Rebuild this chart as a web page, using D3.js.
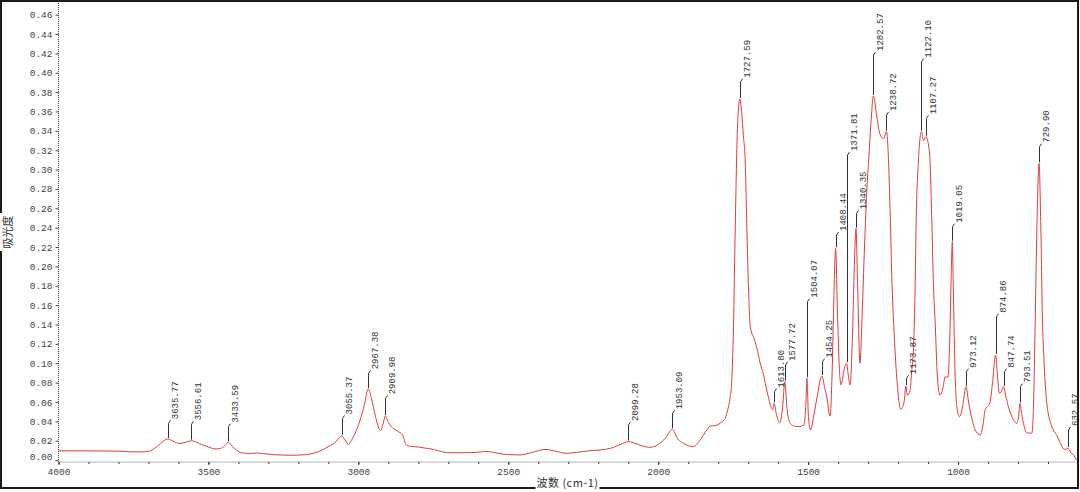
<!DOCTYPE html>
<html>
<head>
<meta charset="utf-8">
<script src="https://cdn.jsdelivr.net/npm/d3@7"></script>
<style>
  body { margin: 0; background: #fff; }
</style>
</head>
<body>
<div id="chart"></div>
<script>
// 1. DATA
const wavenumbers = [
  4000, 3900, 3800, 3760, 3720, 3700, 3680, 3660, 3635.77, 3615,
  3598, 3575, 3556.61, 3530, 3500, 3478, 3460, 3445, 3433.59, 3420,
  3405, 3391, 3360, 3340, 3320, 3280, 3220, 3180, 3150, 3120,
  3100, 3085, 3075, 3065, 3055.37, 3045, 3034, 3020, 3005, 2994,
  2980, 2967.38, 2955, 2945, 2933, 2926, 2918, 2909.98, 2900, 2890,
  2870, 2853, 2840, 2818, 2800, 2780, 2750, 2720, 2702, 2650,
  2600, 2576, 2550, 2527, 2490, 2461, 2420, 2377, 2340, 2305,
  2270, 2227, 2190, 2150, 2120, 2099.28, 2070, 2045, 2027, 2000,
  1975, 1953.09, 1935, 1916, 1883, 1860, 1840, 1827, 1805, 1790,
  1777, 1768, 1760, 1755, 1749, 1743, 1737, 1732, 1727.59, 1722,
  1716, 1710, 1704, 1698, 1693, 1680, 1672, 1660, 1650, 1640,
  1633, 1625, 1618, 1613.80, 1605, 1595, 1585, 1577.72, 1570, 1560,
  1545, 1530, 1515, 1508, 1504.07, 1499, 1492, 1480, 1470, 1454.25,
  1445, 1438, 1427, 1420, 1414, 1408.44, 1402, 1395, 1390, 1381,
  1371.81, 1365, 1360, 1352, 1345, 1340.35, 1335, 1327, 1320, 1312,
  1304, 1298, 1290, 1282.57, 1271, 1260, 1249, 1238.72, 1232, 1226,
  1220, 1213, 1203, 1191, 1180, 1173.87, 1169, 1160, 1155, 1149,
  1143, 1140, 1132, 1122.10, 1115, 1107.27, 1095, 1087, 1082, 1076,
  1069, 1060, 1050, 1043, 1034, 1028, 1023, 1019.05, 1016, 1010,
  1004, 995, 985, 973.12, 965, 960, 950, 943, 926, 915,
  910, 900, 894, 885, 874.86, 868, 862, 855, 847.74, 840,
  832, 815, 804, 798, 793.51, 788, 782, 770, 754, 748,
  743, 737, 729.90, 724, 718, 715, 704, 687, 670, 659,
  648, 640, 632.57, 625, 614, 605
];
const absorbance = [
  0.0095, 0.0095, 0.0092, 0.0085, 0.0085, 0.009, 0.012, 0.017, 0.0218, 0.019,
  0.0172, 0.0185, 0.020, 0.017, 0.0135, 0.0115, 0.012, 0.015, 0.0183, 0.014,
  0.010, 0.0076, 0.0068, 0.0072, 0.0068, 0.0055, 0.005, 0.0055, 0.007, 0.0105,
  0.014, 0.0165, 0.019, 0.0225, 0.025, 0.021, 0.0163, 0.022, 0.032, 0.0414,
  0.057, 0.0734, 0.062, 0.048, 0.034, 0.0305, 0.037, 0.0455, 0.039, 0.0345,
  0.030, 0.026, 0.0156, 0.0138, 0.0135, 0.0125, 0.011, 0.0085, 0.0076, 0.0076,
  0.008, 0.009, 0.008, 0.0065, 0.0055, 0.0053, 0.008, 0.011, 0.009, 0.007,
  0.008, 0.0097, 0.0105, 0.013, 0.017, 0.019, 0.0165, 0.0138, 0.0132, 0.016,
  0.023, 0.0318, 0.022, 0.0173, 0.0138, 0.0207, 0.030, 0.035, 0.036, 0.039,
  0.043, 0.052, 0.065, 0.08, 0.138, 0.241, 0.33, 0.365, 0.373, 0.36,
  0.335, 0.31, 0.235, 0.17, 0.138, 0.125, 0.117, 0.10, 0.0896, 0.075,
  0.0655, 0.056, 0.052, 0.0586, 0.046, 0.0386, 0.055, 0.081, 0.052, 0.038,
  0.035, 0.0345, 0.036, 0.055, 0.0845, 0.045, 0.031, 0.048, 0.0655, 0.0868,
  0.075, 0.0655, 0.0455, 0.09, 0.17, 0.2187, 0.15, 0.09, 0.0775, 0.092,
  0.10, 0.085, 0.0775, 0.13, 0.21, 0.239, 0.18, 0.10, 0.15, 0.22,
  0.28, 0.31, 0.35, 0.376, 0.355, 0.336, 0.332, 0.339, 0.31, 0.25,
  0.18, 0.13, 0.079, 0.0524, 0.06, 0.0765, 0.067, 0.072, 0.09, 0.1137,
  0.18, 0.241, 0.31, 0.339, 0.33, 0.334, 0.3168, 0.241, 0.18, 0.14,
  0.086, 0.067, 0.075, 0.086, 0.0855, 0.12, 0.19, 0.2255, 0.18, 0.09,
  0.055, 0.0448, 0.055, 0.0758, 0.06, 0.0517, 0.038, 0.031, 0.026, 0.04,
  0.0517, 0.056, 0.0586, 0.08, 0.1085, 0.085, 0.069, 0.071, 0.0758, 0.065,
  0.055, 0.0414, 0.038, 0.045, 0.0586, 0.048, 0.038, 0.028, 0.0277, 0.06,
  0.138, 0.241, 0.3065, 0.241, 0.138, 0.1137, 0.0586, 0.0345, 0.025, 0.018,
  0.0115, 0.011, 0.0125, 0.008, 0.005, 0.0
];

// peak picks: label text + absorbance where the leader line ends
const peakLabels = [
  "3635.77", "3556.61", "3433.59", "3055.37", "2967.38", "2909.98", "2099.28",
  "1953.09", "1727.59", "1613.80", "1577.72", "1504.07", "1454.25", "1408.44",
  "1371.81", "1340.35", "1282.57", "1238.72", "1173.87", "1122.10", "1107.27",
  "1019.05", "973.12", "874.86", "847.74", "793.51", "729.90", "632.57"
];
const peakTops = [
  0.038, 0.037, 0.0345, 0.043, 0.0896, 0.0638, 0.0362,
  0.0483, 0.3907, 0.0706, 0.0982, 0.1636, 0.1016, 0.2324,
  0.315, 0.2548, 0.4183, 0.3563, 0.0845, 0.4114, 0.3529,
  0.241, 0.0913, 0.148, 0.0913, 0.0758, 0.3236, 0.0311
];

const yTicks = [0.00, 0.02, 0.04, 0.06, 0.08, 0.10, 0.12, 0.14, 0.16, 0.18, 0.20, 0.22,
  0.24, 0.26, 0.28, 0.30, 0.32, 0.34, 0.36, 0.38, 0.40, 0.42, 0.44, 0.46];
const xTicks = [4000, 3500, 3000, 2500, 2000, 1500, 1000];
const xMinor = d3.range(700, 4001, 100);

const xTitle = "波数 (cm-1)";
const yTitle = "吸光度";

// 2. SETUP
const width = 1080;
const height = 492;
const plot = { left: 58.5, right: 1076.5, top: 3, bottom: 462 };
const monoFont = "'Liberation Mono', 'DejaVu Sans Mono', monospace";
const cjkFont = "'Noto Sans CJK SC', sans-serif";

const svg = d3.select("#chart")
  .append("svg")
  .attr("width", width)
  .attr("height", height)
  .attr("viewBox", [0, 0, width, height]);

svg.append("rect")
  .attr("width", width).attr("height", height)
  .attr("fill", "#fff");

// --- SCALES ---
const x = d3.scaleLinear()
  .domain([4000, 605])
  .range([plot.left, plot.right]);

const y = d3.scaleLinear()
  .domain([-0.002, 0.472])
  .range([plot.bottom, plot.top]);

// outer frame
svg.append("rect")
  .attr("x", 1).attr("y", 1)
  .attr("width", 1077).attr("height", 487)
  .attr("fill", "none")
  .attr("stroke", "#1a1a1a")
  .attr("stroke-width", 2);

// --- Y AXIS ---
svg.append("line")
  .attr("x1", plot.left).attr("x2", plot.left)
  .attr("y1", plot.top).attr("y2", plot.bottom)
  .attr("stroke", "#444")
  .attr("stroke-dasharray", "1,1");

const yAxis = svg.append("g")
  .attr("transform", `translate(${plot.left},0)`)
  .call(d3.axisLeft(y).tickValues(yTicks).tickSize(3).tickPadding(3).tickFormat(d3.format(".2f")))
  .call(g => g.select(".domain").remove());
yAxis.selectAll("line").attr("stroke", "#444");
yAxis.selectAll("text")
  .attr("font-family", monoFont)
  .attr("font-size", "9.5px")
  .attr("fill", "#444")
  .attr("dy", d => d === 0 ? "-0.1em" : "0.32em");  // 0.00 sits a bit above the x axis

// --- X AXIS ---
svg.append("line")
  .attr("x1", plot.left).attr("x2", plot.right)
  .attr("y1", plot.bottom).attr("y2", plot.bottom)
  .attr("stroke", "#b4b4b4");

svg.append("g")
  .attr("transform", `translate(0,${plot.bottom})`)
  .call(d3.axisBottom(x).tickValues(xMinor).tickSize(2).tickFormat(""))
  .call(g => g.select(".domain").remove())
  .selectAll("line").attr("stroke", "#333");

const xAxis = svg.append("g")
  .attr("transform", `translate(0,${plot.bottom})`)
  .call(d3.axisBottom(x).tickValues(xTicks).tickSize(3).tickPadding(3).tickFormat(d3.format("d")))
  .call(g => g.select(".domain").remove());
xAxis.selectAll("line").attr("stroke", "#333");
xAxis.selectAll("text")
  .attr("font-family", monoFont)
  .attr("font-size", "9.5px")
  .attr("fill", "#444");

// axis titles (they break the frame line)
const xt = svg.append("g").attr("transform", `translate(${(plot.left + plot.right) / 2},487)`);
xt.append("rect").attr("x", -32).attr("y", -10).attr("width", 64).attr("height", 5 + 10).attr("fill", "#fff");
xt.append("text")
  .attr("text-anchor", "middle")
  .attr("font-family", cjkFont)
  .attr("font-size", "11px")
  .attr("letter-spacing", "0.5px")
  .attr("fill", "#333")
  .text(xTitle);

const yt = svg.append("g").attr("transform", `translate(12,232) rotate(-90)`);
yt.append("rect").attr("x", -19).attr("y", -12).attr("width", 38).attr("height", 15).attr("fill", "#fff");
yt.append("text")
  .attr("text-anchor", "middle")
  .attr("font-family", cjkFont)
  .attr("font-size", "11px")
  .attr("fill", "#333")
  .text(yTitle);

// --- SPECTRUM ---
const spectrum = wavenumbers.map((w, i) => ({ w, a: absorbance[i] }));

const line = d3.line()
  .x(d => x(d.w))
  .y(d => y(d.a))
  .curve(d3.curveMonotoneX);

svg.append("path")
  .datum(spectrum)
  .attr("fill", "none")
  .attr("stroke", "#e23b3b")
  .attr("stroke-width", 1)
  .attr("d", line);

// --- PEAK LABELS ---
const peaks = peakLabels.map((label, i) => {
  const w = +label;
  const hit = spectrum.find(d => Math.abs(d.w - w) < 0.01);
  return { label, w, a: hit ? hit.a : 0, top: peakTops[i] };
});

const pk = svg.append("g")
  .selectAll("g")
  .data(peaks)
  .join("g");

pk.append("path")
  .attr("fill", "none")
  .attr("stroke", "#333")
  .attr("stroke-width", 1)
  .attr("d", d => {
    const px = Math.round(x(d.w)) + 0.5;
    return `M${px},${y(d.a) - 1}V${y(d.top)}l2,-3`;
  });

pk.append("text")
  .attr("transform", d => `translate(${Math.round(x(d.w)) + 10},${y(d.top) - 4}) rotate(-90)`)
  .attr("font-family", monoFont)
  .attr("font-size", "9px")
  .attr("fill", "#333")
  .text(d => d.label);
</script>
</body>
</html>
